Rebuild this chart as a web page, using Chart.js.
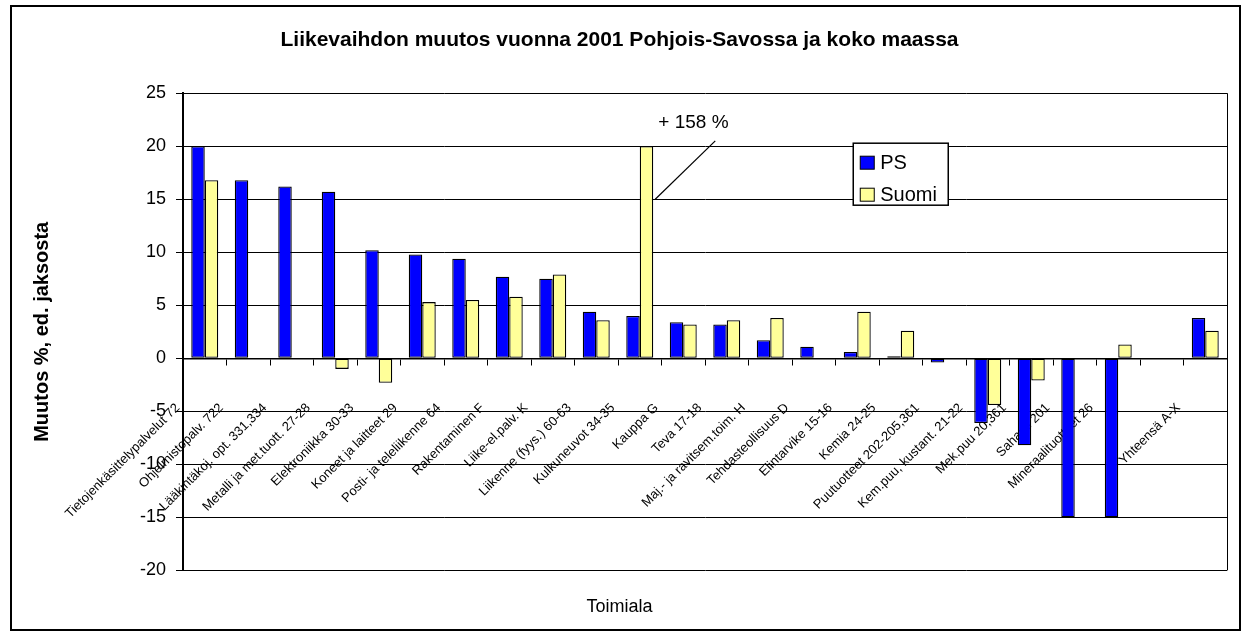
<!DOCTYPE html>
<html>
<head>
<meta charset="utf-8">
<script src="https://cdn.jsdelivr.net/npm/chart.js@4"></script>
<style>
  body { margin: 0; background: #fff; }
  #frame { position: absolute; left: 10px; top: 5px; width: 1227px; height: 622px; border: 2px solid #000; }
</style>
</head>
<body>
<div id="frame"><canvas id="chart" width="1227" height="622"></canvas></div>
<script>
const categories = [
    'Tietojenkäsittelypalvelut 72', 'Ohjelmistopalv. 722', 'Lääkintäkoj. opt. 331,334',
    'Metalli ja met.tuott. 27-28', 'Elektroniikka 30-33', 'Koneet ja laitteet 29',
    'Posti- ja teleliikenne 64', 'Rakentaminen F', 'Liike-el.palv. K',
    'Liikenne (fyys.) 60-63', 'Kulkuneuvot 34-35', 'Kauppa G', 'Teva 17-18',
    'Maj.- ja ravitsem.toim. H', 'Tehdasteollisuus D', 'Elintarvike 15-16',
    'Kemia 24-25', 'Puutuotteet 202-205,361', 'Kem.puu, kustant. 21-22',
    'Mek.puu 20,361', 'Sahaus 201', 'Mineraalituotteet 26', '', 'Yhteensä A-X'
];
const psValues = [
    20.0, 16.8, 16.2, 15.7, 10.2, 9.8, 9.4, 7.7, 7.5, 4.4, 4.0, 3.4,
    3.2, 1.7, 1.1, 0.6, 0.2, -0.4, -6.1, -8.2, -15.0, -15.0, null, 3.8
];
const suomiValues = [
    16.8, null, null, -1.0, -2.3, 5.3, 5.5, 5.8, 7.9, 3.6, 20.0, 3.2,
    3.6, 3.8, null, 4.4, 2.6, null, -4.4, -2.1, null, 1.3, null, 2.6
];
const seriesNames = ['PS', 'Suomi'];
const yMin = -20, yMax = 25, yStep = 5;

// Suomi-palkki katkaistu kohdassa 20, oikea arvo merkitty tekstinä
const calloutIndex = 10;
const calloutText = '+ 158 %';

const FONT = 'Arial, "Liberation Sans", sans-serif';
const PS_COLOR = '#0000ff';
const SUOMI_COLOR = '#ffff99';

const calloutPlugin = {
    id: 'callout',
    afterDatasetsDraw(chart) {
        const bar = chart.getDatasetMeta(1).data[calloutIndex];
        const yScale = chart.scales.y;
        const catW = chart.scales.x.width / categories.length;
        const ctx = chart.ctx;
        const x0 = bar.x + bar.width / 2 + 2;
        ctx.save();
        ctx.strokeStyle = '#000';
        ctx.lineWidth = 1.2;
        ctx.beginPath();
        ctx.moveTo(x0, yScale.getPixelForValue(15));
        ctx.lineTo(x0 + catW * 1.38, yScale.getPixelForValue(20.5));
        ctx.stroke();
        ctx.fillStyle = '#000';
        ctx.font = '19px ' + FONT;
        ctx.textAlign = 'center';
        ctx.textBaseline = 'middle';
        ctx.fillText(calloutText, bar.x + catW * 1.08, yScale.getPixelForValue(22.2));
        ctx.restore();
    }
};

const boxLegendPlugin = {
    id: 'boxLegend',
    afterDraw(chart) {
        const area = chart.chartArea;
        const ctx = chart.ctx;
        const left = area.left + area.width * 0.642;
        const top = area.top + 50;
        const w = 95, h = 62;
        ctx.save();
        ctx.fillStyle = '#fff';
        ctx.fillRect(left, top, w, h);
        ctx.strokeStyle = '#000';
        ctx.lineWidth = 1.5;
        ctx.strokeRect(left, top, w, h);
        ctx.font = '20px ' + FONT;
        ctx.textBaseline = 'middle';
        chart.data.datasets.forEach((ds, i) => {
            const cy = top + 19 + i * 32;
            ctx.fillStyle = ds.backgroundColor;
            ctx.fillRect(left + 7, cy - 6, 14, 13);
            ctx.lineWidth = 1;
            ctx.strokeRect(left + 7, cy - 6, 14, 13);
            ctx.fillStyle = '#000';
            ctx.fillText(ds.label, left + 27, cy + 1);
        });
        ctx.restore();
    }
};

const rightEdgePlugin = {
    id: 'rightEdge',
    afterDraw(chart) {
        const area = chart.chartArea;
        const ctx = chart.ctx;
        ctx.save();
        ctx.strokeStyle = '#000';
        ctx.lineWidth = 1;
        ctx.beginPath();
        ctx.moveTo(area.right + 0.5, area.top);
        ctx.lineTo(area.right + 0.5, area.bottom);
        ctx.stroke();
        ctx.restore();
    }
};

const ctx = document.getElementById('chart').getContext('2d');
const chart = new Chart(ctx, {
    type: 'bar',
    data: {
        labels: categories,
        datasets: [{
            label: seriesNames[0],
            data: psValues,
            backgroundColor: PS_COLOR,
            borderColor: '#000',
            borderWidth: 1.3,
            borderSkipped: false
        }, {
            label: seriesNames[1],
            data: suomiValues,
            backgroundColor: SUOMI_COLOR,
            borderColor: '#000',
            borderWidth: 1.3,
            borderSkipped: false
        }]
    },
    options: {
        responsive: false,
        animation: false,
        categoryPercentage: 0.62,
        barPercentage: 1.0,
        layout: { padding: { left: 0, right: 12, top: 0, bottom: 0 } },
        plugins: {
            legend: { display: false },
            tooltip: { enabled: false },
            title: {
                display: true,
                text: 'Liikevaihdon muutos vuonna 2001 Pohjois-Savossa ja koko maassa',
                color: '#000',
                font: { family: FONT, size: 21, weight: 'bold' },
                padding: { top: 21, bottom: 40 }
            },
            subtitle: {
                display: true,
                position: 'bottom',
                text: 'Toimiala',
                color: '#000',
                font: { family: FONT, size: 18 },
                padding: { top: 26, bottom: 11 }
            }
        },
        scales: {
            x: {
                type: 'category',
                position: { y: 0 },
                offset: true,
                grid: { display: true, drawOnChartArea: false, drawTicks: true, tickLength: 6, color: '#000', offset: true },
                border: { display: true, color: '#000', width: 1.5 },
                ticks: {
                    autoSkip: false,
                    maxRotation: 45,
                    minRotation: 45,
                    color: '#000',
                    font: { family: FONT, size: 13 },
                    padding: 36,
                    labelOffset: -27
                },
                afterFit: (scale) => { scale.paddingLeft = 0; scale.paddingRight = 0; }
            },
            y: {
                min: yMin,
                max: yMax,
                ticks: { stepSize: yStep, color: '#000', font: { family: FONT, size: 18 }, padding: 10 },
                grid: { color: '#000', lineWidth: 1, tickLength: 7, drawTicks: true },
                border: { display: true, color: '#000', width: 2 },
                title: {
                    display: true,
                    text: 'Muutos %, ed. jaksosta',
                    color: '#000',
                    font: { family: FONT, size: 20, weight: 'bold' },
                    padding: { top: 18, bottom: 0 }
                },
                afterFit: (scale) => { scale.width = 171; }
            }
        }
    },
    plugins: [calloutPlugin, boxLegendPlugin, rightEdgePlugin]
});
</script>
</body>
</html>
